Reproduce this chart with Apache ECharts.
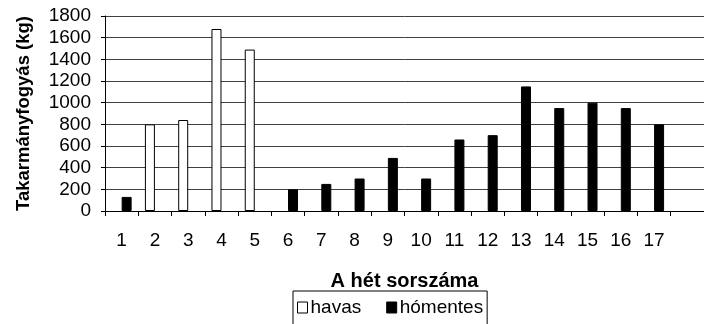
<!DOCTYPE html>
<html>
<head>
<meta charset="utf-8">
<script src="https://cdn.jsdelivr.net/npm/echarts@6/dist/echarts.min.js"></script>
<style>
  html, body { margin: 0; padding: 0; background: #fff; }
  #chart { width: 704px; height: 324px; }
</style>
</head>
<body>
<div id="chart"></div>
<script>
// Weekly feed consumption (kg), split by snowy / snow-free weeks (null = no bar that week)
const weeks = ['1', '2', '3', '4', '5', '6', '7', '8', '9', '10', '11', '12', '13', '14', '15', '16', '17', ''];
const havas = [null, 800, 840, 1680, 1490, null, null, null, null, null, null, null, null, null, null, null, null, null];
const homentes = [130, null, null, null, null, 200, 250, 300, 490, 300, 660, 700, 1150, 950, 1000, 950, 800, null];
const yTicks = { min: 0, max: 1800, interval: 200 };

const FONT = '"Liberation Sans", Arial, sans-serif';

// empty weeks get no outline, so nothing is stroked on the baseline
const toBarData = (arr) => arr.map((v) =>
  v == null ? { value: '-', itemStyle: { borderWidth: 0, opacity: 0 } } : v
);

const chart = echarts.init(document.getElementById('chart'), null, { renderer: 'canvas' });
chart.setOption({
  animation: false,
  backgroundColor: '#ffffff',
  textStyle: { fontFamily: FONT, color: '#000' },
  grid: { left: 105, top: 16, width: 607, height: 195, containLabel: false },
  legend: {
    left: 293,
    top: 291,
    orient: 'horizontal',
    itemWidth: 10,
    itemHeight: 11,
    itemGap: 25,
    padding: [7, 4, 20, 4],
    borderColor: '#000',
    borderWidth: 1,
    borderRadius: 0,
    textStyle: { fontFamily: FONT, fontSize: 19, color: '#000', padding: [0, 0, 0, -2] },
    data: [
      {
        name: 'havas', icon: 'rect',
        itemStyle: { color: '#fff', borderColor: '#000', borderWidth: 1 }
      },
      {
        name: 'hómentes', icon: 'rect',
        itemStyle: { color: '#000', borderColor: '#000', borderWidth: 1 }
      }
    ]
  },
  xAxis: {
    type: 'category',
    data: weeks,
    name: 'A hét sorszáma',
    nameLocation: 'middle',
    nameGap: 60,
    nameTextStyle: { fontFamily: FONT, fontSize: 20, fontWeight: 'bold', color: '#000' },
    axisLine: { show: true, lineStyle: { color: '#000', width: 1 } },
    axisTick: { show: true, length: 5, interval: 0, lineStyle: { color: '#000' } },
    axisLabel: { interval: 0, margin: 20, fontFamily: FONT, fontSize: 19, color: '#000' },
    splitLine: { show: false }
  },
  yAxis: {
    type: 'value',
    min: yTicks.min,
    max: yTicks.max,
    interval: yTicks.interval,
    name: 'Takarmányfogyás (kg)',
    nameLocation: 'middle',
    nameGap: 72,
    nameTextStyle: { fontFamily: FONT, fontSize: 18.5, fontWeight: 'bold', color: '#000' },
    axisLine: { show: true, lineStyle: { color: '#000', width: 1 } },
    axisTick: { show: true, length: 4, lineStyle: { color: '#000' } },
    axisLabel: {
      margin: 14, fontFamily: FONT, fontSize: 19, color: '#000',
      formatter: (v) => String(v)
    },
    splitLine: { show: true, lineStyle: { color: '#404040', width: 1 } }
  },
  series: [
    {
      name: 'havas',
      type: 'bar',
      data: toBarData(havas),
      barWidth: 10,
      barGap: '0%',
      itemStyle: { color: '#fff', borderColor: '#000', borderWidth: 1 }
    },
    {
      name: 'hómentes',
      type: 'bar',
      data: toBarData(homentes),
      barWidth: 10,
      barGap: '0%',
      itemStyle: { color: '#000', borderColor: '#000', borderWidth: 1 }
    }
  ]
});
</script>
</body>
</html>
